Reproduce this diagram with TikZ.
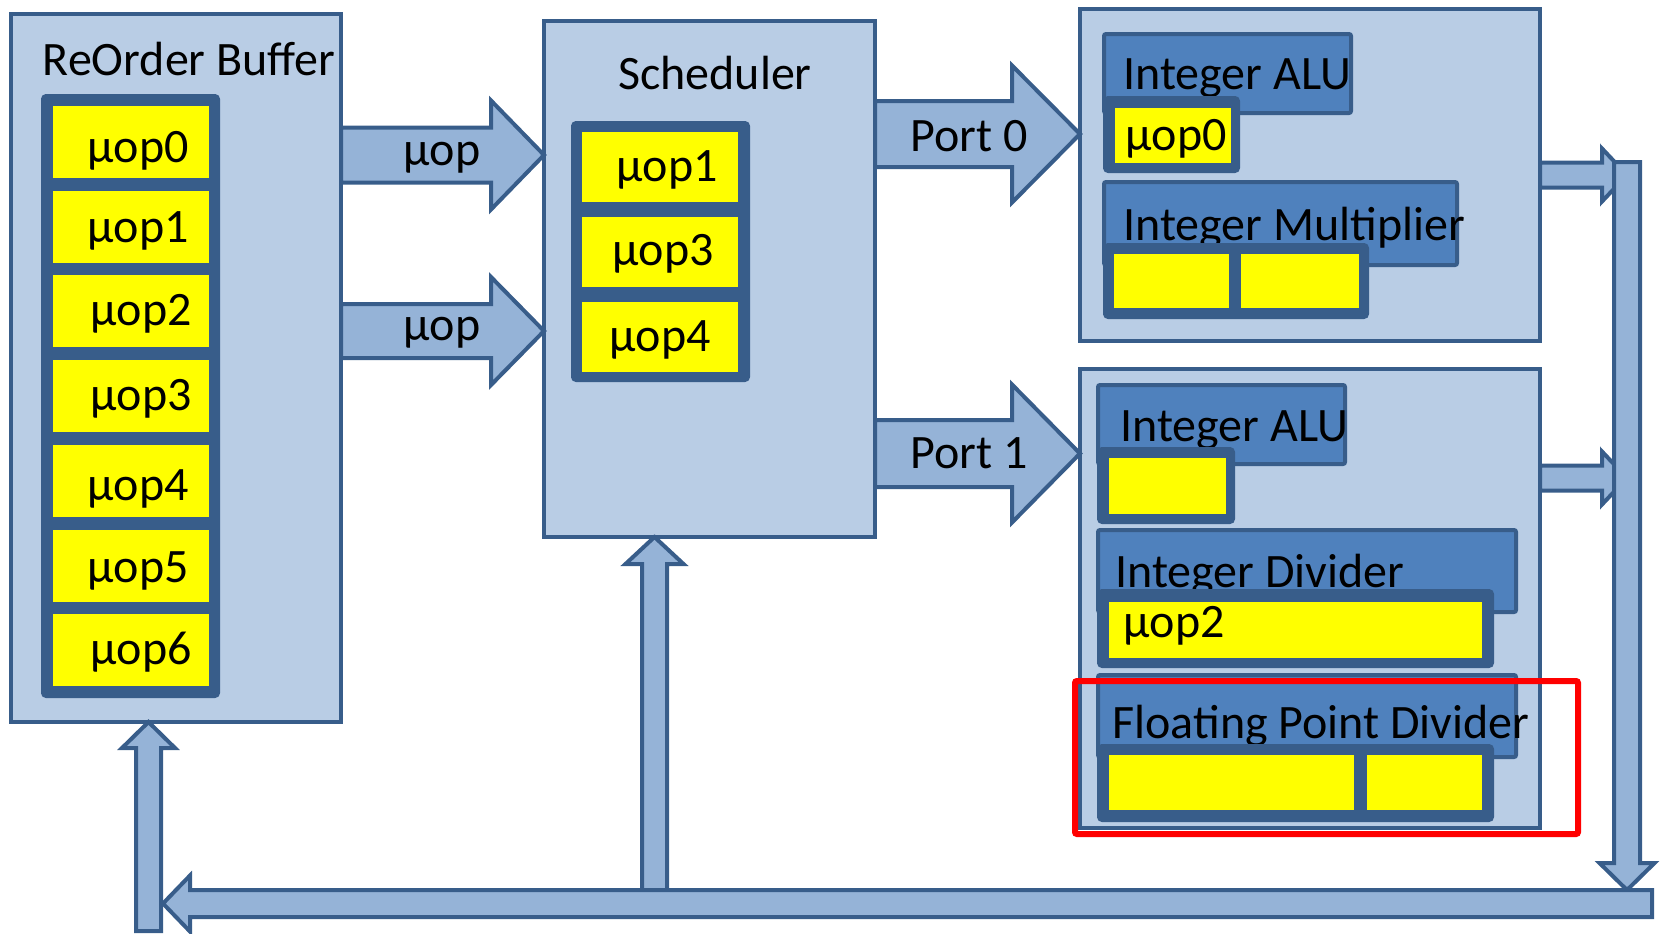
\documentclass[tikz,border=0pt]{standalone}
\usepackage{fontspec}
\setmainfont{Carlito}
\usetikzlibrary{calc,fit}

\definecolor{boxfill}{HTML}{B9CDE5}
\definecolor{boxline}{HTML}{385D8A}
\definecolor{arrowfill}{HTML}{95B3D7}
\definecolor{hdrfill}{HTML}{4F81BD}
\definecolor{cellfill}{HTML}{FFFF00}
\definecolor{hilite}{HTML}{FF0000}

\tikzset{
  unitbox/.style={draw=boxline, fill=boxfill, line width=2pt, inner sep=0pt, outer sep=0pt},
  hdrbox/.style={draw=boxline, fill=hdrfill, line width=2pt, rounded corners=1pt, inner sep=0pt, outer sep=0pt},
  slotframe/.style={fill=boxline, draw=boxline, line width=1pt, rounded corners=2pt, inner sep=0pt, outer sep=0pt},
  slot/.style={fill=cellfill, inner sep=0pt, outer sep=0pt},
  bigarrow/.style={draw=boxline, fill=arrowfill, line width=2pt, line join=miter},
  lbl/.style={font=\fontsize{24}{29}\selectfont, inner sep=0pt, anchor=base},
  lbll/.style={lbl, anchor=base west},
  hiliterect/.style={draw=hilite, line width=3pt, rounded corners=1pt, inner sep=0pt},
}

% horizontal block arrow: base #1, tip #2, half shaft #3, half head #4, head length #5 (negative when pointing left)
\newcommand\harrow[5]{%
  \filldraw[bigarrow] ($(#1)+(0,-#3)$) -- ($(#2)+({-1*(#5)},-#3)$) -- ($(#2)+({-1*(#5)},-#4)$)
    -- (#2) -- ($(#2)+({-1*(#5)},#4)$) -- ($(#2)+({-1*(#5)},#3)$) -- ($(#1)+(0,#3)$) -- cycle;}
% vertical block arrow: same arguments, head length negative when pointing up
\newcommand\varrow[5]{%
  \filldraw[bigarrow] ($(#1)+(-#3,0)$) -- ($(#2)+(-#3,{-1*(#5)})$) -- ($(#2)+(-#4,{-1*(#5)})$)
    -- (#2) -- ($(#2)+(#4,{-1*(#5)})$) -- ($(#2)+(#3,{-1*(#5)})$) -- ($(#1)+(#3,0)$) -- cycle;}

\begin{document}
\begin{tikzpicture}[x=0.5pt,y=-0.5pt]
\useasboundingbox (0,0) rectangle (1661,933);
\clip (0,0) rectangle (1661,933);

% ---------- ReOrder Buffer ----------
\node[unitbox, fit={(11,14) (341,722)}] (rob) {};
\node[lbl] (robtitle) at (189,75) {ReOrder Buffer};
\node[slotframe, fit={(42,95) (219,697)}] (robframe) {};
% entry index / label x / label baseline offset
\foreach \k/\lx/\ly in {0/138/56, 1/138/52, 2/141/50, 3/141/50, 4/138/56, 5/138/53, 6/141/50} {
  \pgfmathsetmacro\t{106+84.7*\k}
  \node[slot, fit={(53,\t) (209,\t+72)}] (rob\k) {};
  \node[lbl] (roblbl\k) at (\lx,\t+\ly) {µop\k};
}

% ---------- Scheduler ----------
\node[unitbox, fit={(544,21) (875,537)}] (sched) {};
\node[lbl] (schedtitle) at (715,89) {Scheduler};
\node[slotframe, fit={(572,122) (749,381)}] (schedframe) {};
\node[slot, fit={(582,132) (738,202)}] (sch0) {};
\node[slot, fit={(582,217) (738,287)}] (sch1) {};
\node[slot, fit={(582,302) (738,372)}] (sch2) {};
\node[lbl] (schlbl0) at (667,181) {µop1};
\node[lbl] (schlbl1) at (663,265) {µop3};
\node[lbl] (schlbl2) at (660,351) {µop4};

% ---------- Port 0 execution units ----------
\node[unitbox, fit={(1080,9) (1540,341)}] (exec0) {};
\node[hdrbox, fit={(1104,34) (1351,113)}] (alu0) {};
\node[lbll] (alu0lbl) at (1123,89) {Integer ALU};
\node[slotframe, fit={(1104,97) (1239,172)}] (alu0frame) {};
\node[slot, fit={(1115,108) (1231,163)}] (alu0slot) {};
\node[lbl] (alu0op) at (1176,150) {µop0};
\node[hdrbox, fit={(1104,182) (1457,265)}] (mul) {};
\node[lbll] (mullbl) at (1123,240) {Integer Multiplier};
\node[slotframe, fit={(1104,244) (1368,318)}] (mulframe) {};
\node[slot, fit={(1114,254) (1229,308)}] (mulslot0) {};
\node[slot, fit={(1241,254) (1359,308)}] (mulslot1) {};

% ---------- Port 1 execution units ----------
\node[unitbox, fit={(1080,369) (1540,828)}] (exec1) {};
\node[hdrbox, fit={(1098,385) (1345,464)}] (alu1) {};
\node[lbll] (alu1lbl) at (1120,441) {Integer ALU};
\node[slotframe, fit={(1098,448) (1234,523)}] (alu1frame) {};
\node[slot, fit={(1109,458) (1226,514)}] (alu1slot) {};
\node[hdrbox, fit={(1098,530) (1516,612)}] (div) {};
\node[lbll] (divlbl) at (1115,587) {Integer Divider};
\node[slotframe, fit={(1098,590) (1493,667)}] (divframe) {};
\node[slot, fit={(1109,602) (1482,658)}] (divslot) {};
\node[lbll] (divop) at (1123,637) {µop2};
\node[hdrbox, fit={(1098,675) (1516,757)}] (fpdiv) {};
\node[lbll] (fpdivlbl) at (1112,738) {Floating Point Divider};
\node[slotframe, fit={(1098,745) (1493,821)}] (fpdivframe) {};
\node[slot, fit={(1109,755) (1354,810)}] (fpdivslot0) {};
\node[slot, fit={(1367,755) (1482,810)}] (fpdivslot1) {};

% ---------- dispatch arrows ----------
\harrow{rob.east |- 0,155}{sched.west |- 0,155}{27.5}{54.5}{53}
\harrow{rob.east |- 0,331}{sched.west |- 0,331}{27}{54}{53}
\node[lbl] (dlbl0) at (442,165) {µop};
\node[lbl] (dlbl1) at (442,340) {µop};

\harrow{sched.east |- 0,134}{exec0.west |- 0,134}{33}{68.5}{68}
\harrow{sched.east |- 0,453.5}{exec1.west |- 0,453.5}{33.5}{69}{68}
\node[lbl] (port0) at (969,151) {Port 0};
\node[lbl] (port1) at (969,468) {Port 1};

% ---------- write-back path ----------
\coordinate (bustop) at (1627,162);
\coordinate (bustip) at (1627,890);
\coordinate (barright) at (1652,903.5);
\coordinate (barleft) at (163,903.5);
\coordinate (schedfeed) at (654.5,890);
\coordinate (robfeed) at (148.5,931);

\harrow{exec0.east |- 0,175}{bustop |- 0,175}{12.5}{26.5}{25}
\harrow{exec1.east |- 0,478}{bustop |- 0,478}{12.5}{26.5}{25}
\varrow{bustop}{bustip}{13}{27.5}{27}
\varrow{schedfeed}{sched.south -| schedfeed}{12.5}{29}{-27}
\varrow{robfeed}{rob.south -| robfeed}{12.5}{26.5}{-26}
\harrow{barright}{barleft}{13.5}{28}{-27}

% ---------- highlight ----------
\node[hiliterect, fit={(1075,681) (1578,834)}] (focus) {};
\end{tikzpicture}
\end{document}
